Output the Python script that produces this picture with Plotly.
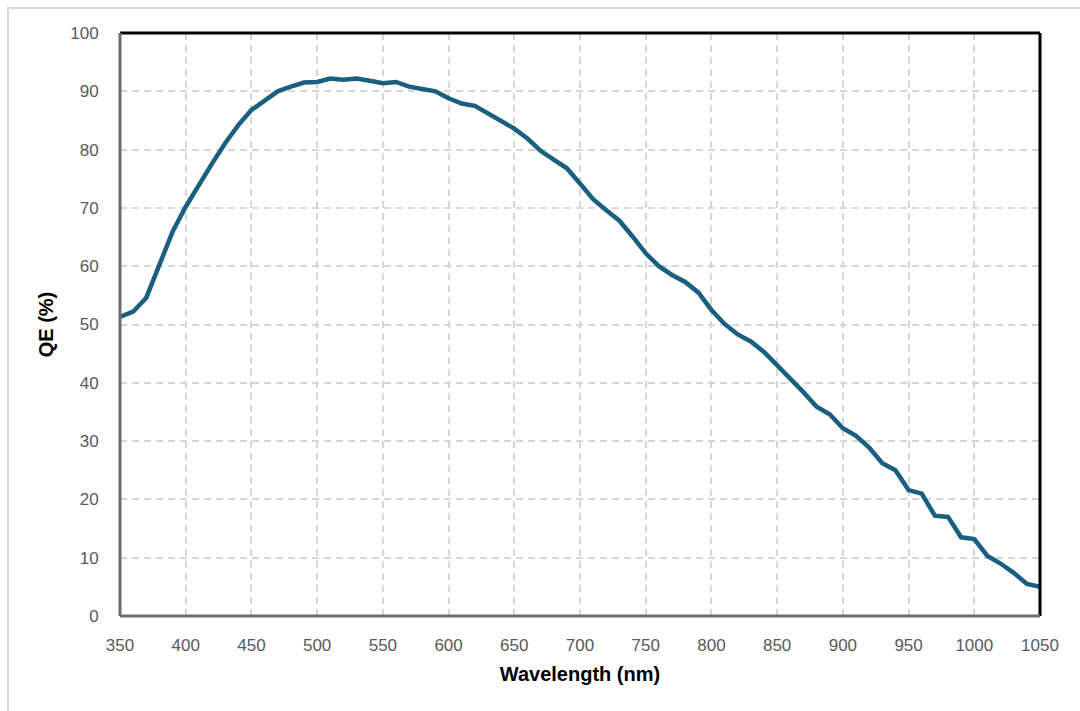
import plotly.graph_objects as go

# Quantum efficiency curve, sampled every 10 nm
wavelength_nm = list(range(350, 1051, 10))
qe_percent = [
    51.3, 52.2, 54.6, 60.5, 65.9, 70.2, 74.0, 77.6, 81.1, 84.2,
    86.8, 88.5, 90.0, 90.8, 91.5, 91.6, 92.2, 92.0, 92.2, 91.8,
    91.4, 91.6, 90.8, 90.4, 90.0, 88.8, 87.9, 87.5, 86.2, 84.8,
    83.6, 81.9, 79.8, 78.3, 76.8, 74.2, 71.5, 69.6, 67.8, 65.1,
    62.2, 60.0, 58.5, 57.3, 55.5, 52.5, 50.1, 48.3, 47.1, 45.3,
    43.0, 40.8, 38.4, 35.9, 34.6, 32.2, 30.9, 28.9, 26.2, 25.0,
    21.6, 21.0, 17.2, 17.0, 13.5, 13.2, 10.3, 9.0, 7.4, 5.5,
    5.0,
]
x_ticks = list(range(350, 1051, 50))
y_ticks = list(range(0, 101, 10))

fig = go.Figure()
fig.add_trace(go.Scatter(
    x=wavelength_nm, y=qe_percent, mode="lines",
    line=dict(color="#1a5e80", width=4.5),
    hoverinfo="x+y", showlegend=False,
))

axis_font = dict(family="Arial, Liberation Sans, sans-serif", size=17, color="#595959")
title_font = dict(family="Arial, Liberation Sans, sans-serif", size=20, color="#000000")
grid_dash = "7px,5px"

# invisible ticks give the labels their spacing from the frame
fig.update_xaxes(
    range=[350, 1050], tickvals=x_ticks, ticktext=[str(v) for v in x_ticks],
    showgrid=True, gridcolor="#d6d6d6", griddash=grid_dash, gridwidth=1.5,
    zeroline=False, showline=False,
    ticks="outside", ticklen=14, tickcolor="rgba(0,0,0,0)", tickfont=axis_font,
    title=dict(text="<b>Wavelength (nm)</b>", font=title_font, standoff=12),
)
fig.update_yaxes(
    range=[0, 100], tickvals=y_ticks, ticktext=[str(v) for v in y_ticks],
    showgrid=True, gridcolor="#d6d6d6", griddash=grid_dash, gridwidth=1.5,
    zeroline=False, showline=False,
    ticks="outside", ticklen=17, tickcolor="rgba(0,0,0,0)", tickfont=axis_font,
    title=dict(text="<b>QE (%)</b>", font=title_font, standoff=11),
)

shapes = [
    # outer light border of the chart area
    dict(type="rect", xref="paper", yref="paper",
         x0=(8 - 120) / 920, x1=(1090 - 120) / 920,
         y0=(616 - 720) / 583, y1=(616 - 8) / 583,
         line=dict(color="#d9d9d9", width=2), fillcolor="rgba(0,0,0,0)", layer="below"),
    # plot frame: dark top/right edges
    dict(type="line", xref="paper", yref="paper", x0=0, x1=1, y0=1, y1=1,
         line=dict(color="#000000", width=3)),
    dict(type="line", xref="paper", yref="paper", x0=1, x1=1, y0=0, y1=1,
         line=dict(color="#000000", width=3)),
    # left/bottom axis edges
    dict(type="line", xref="paper", yref="paper", x0=0, x1=1, y0=0, y1=0,
         line=dict(color="#6e6e6e", width=3)),
    dict(type="line", xref="paper", yref="paper", x0=0, x1=0, y0=0, y1=1,
         line=dict(color="#6e6e6e", width=3)),
]

fig.update_layout(
    width=1080, height=711,
    margin=dict(l=120, r=40, t=33, b=95),
    paper_bgcolor="#ffffff", plot_bgcolor="#ffffff",
    shapes=shapes,
    font=dict(family="Arial, Liberation Sans, sans-serif"),
)

fig.write_html("out.html", config={"displayModeBar": False})
